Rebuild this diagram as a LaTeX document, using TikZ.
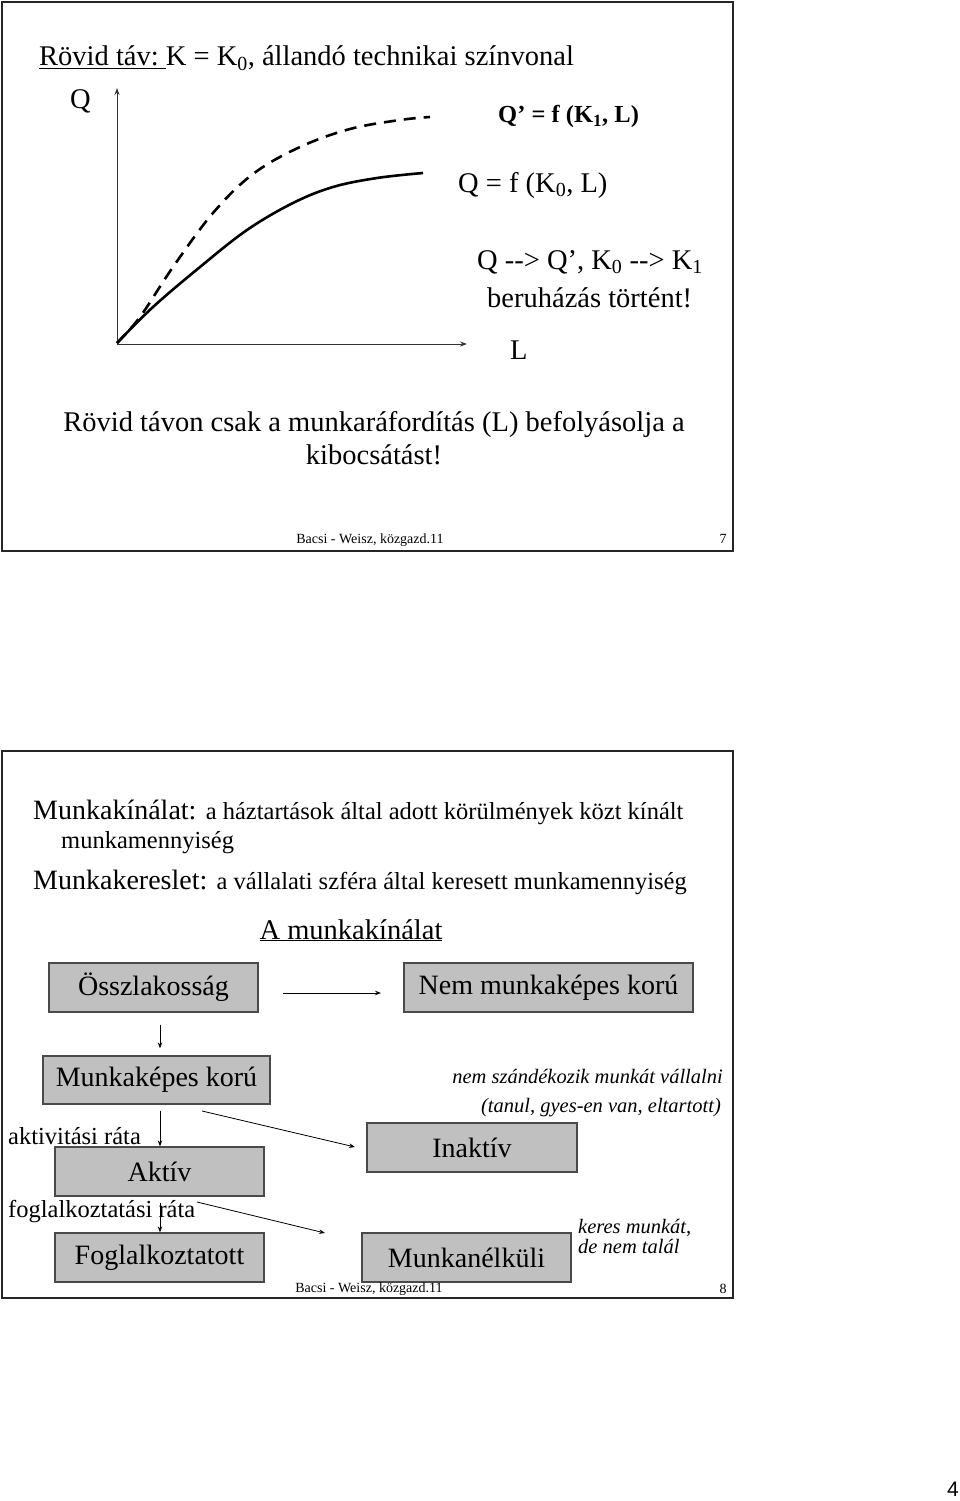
\documentclass[tikz,border=0pt]{standalone}
\usepackage{fontspec}
\setmainfont{Liberation Serif}
\newfontfamily\pagenumfont{Liberation Sans}
\usetikzlibrary{arrows.meta}
\definecolor{boxfill}{HTML}{C0C0C0}
\definecolor{boxline}{HTML}{4A4A4A}
\definecolor{framecol}{HTML}{262626}
\begin{document}
\begin{tikzpicture}[x=1pt,y=-1pt,
  frame/.style={draw=framecol,line width=2.2pt},
  box/.style={draw=boxline,fill=boxfill,line width=1.3pt,inner sep=0pt,font=\fontsize{28}{30}\selectfont},
  big/.style={inner sep=0pt,anchor=base west,font=\fontsize{28.5}{32}\selectfont},
  bigc/.style={inner sep=0pt,anchor=base,font=\fontsize{28.5}{32}\selectfont},
  mid/.style={inner sep=0pt,anchor=base west,font=\fontsize{24.5}{28}\selectfont},
  note/.style={inner sep=0pt,font=\fontsize{20.5}{24}\selectfont\itshape},
  foot/.style={inner sep=0pt,anchor=base,font=\fontsize{14}{16}\selectfont},
  arr/.style={draw=black,line width=0.8pt,-{Stealth[length=6pt,width=4.5pt]}},
  axis/.style={draw=black!80,line width=1pt,-{Stealth[length=7pt,width=5pt]}},
  curve/.style={draw=black,line width=2.6pt}]
\useasboundingbox (0,0) rectangle (960,1501);
\fill[white] (0,0) rectangle (960,1501);

% ---------- slide 7 ----------
\draw[frame] (2,2) rectangle (733,551);
\node[big] (title) at (39,66) {\underline{Rövid táv:\ }K = K\textsubscript{0}, állandó technikai színvonal};
\node[big] (qlab) at (70,109) {Q};
\coordinate (O) at (117,344);
\coordinate (ytop) at (117,88);
\coordinate (xend) at (467,344);
\draw[axis] (O) -- (ytop);
\draw[axis] (O) -- (xend);
\node[big] (llab) at (510,359) {L};
\draw[curve,dash pattern=on 12pt off 8pt] plot[smooth,tension=0.6] coordinates
  {(117,343) (140,317) (173,267) (213,213) (253,174) (300,147) (350,129) (400,120) (430,117)};
\draw[curve] plot[smooth,tension=0.6] coordinates
  {(117,343) (153,307) (200,267) (247,230) (293,203) (333,187) (377,178) (423,173)};
\node[inner sep=0pt,anchor=base west,font=\fontsize{24.5}{28}\selectfont\bfseries] (qprime) at (498,123) {Q’ = f (K\textsubscript{1}, L)};
\node[big] (qzero) at (458,192) {Q = f (K\textsubscript{0}, L)};
\node[big] (shift) at (477,269) {Q -{}-> Q’, K\textsubscript{0} -{}-> K\textsubscript{1}};
\node[big] (inv) at (487,307) {beruházás történt!};
\node[bigc] (short1) at (374,431) {Rövid távon csak a munkaráfordítás (L) befolyásolja a};
\node[bigc] (short2) at (374,464) {kibocsátást!};
\node[foot] (foot7) at (370,543) {Bacsi - Weisz, közgazd.11};
\node[foot] (num7) at (723,543) {7};

% ---------- slide 8 ----------
\draw[frame] (2,751) rectangle (733,1298);
\node[inner sep=0pt,anchor=base west] (kin) at (33,819)
  {\fontsize{28}{32}\selectfont Munkakínálat: \fontsize{24.5}{28}\selectfont a háztartások által adott körülmények közt kínált};
\node[mid] (kin2) at (61,848) {munkamennyiség};
\node[inner sep=0pt,anchor=base west] (ker) at (33,889)
  {\fontsize{28}{32}\selectfont Munkakereslet: \fontsize{24.5}{28}\selectfont a vállalati szféra által keresett munkamennyiség};
\node[bigc] (head) at (351,939) {\underline{A munkakínálat}};

\node[box,minimum width=209pt,minimum height=49pt] (ossz) at (153.5,987.5) {Összlakosság};
\node[box,minimum width=289pt,minimum height=49pt] (nem) at (548.5,987.5) {Nem munkaképes korú};
\node[box,minimum width=227pt,minimum height=48pt] (mk) at (156.5,1080) {Munkaképes korú};
\node[box,minimum width=209pt,minimum height=49pt] (akt) at (159.5,1171.5) {Aktív};
\node[box,minimum width=209pt,minimum height=49pt] (fog) at (159.5,1257.5) {Foglalkoztatott};
\node[box,minimum width=210pt,minimum height=49pt] (ina) at (472,1147.5) {Inaktív};
\node[box,minimum width=209pt,minimum height=49pt] (mun) at (466.5,1257.5) {Munkanélküli};

\coordinate (ax) at (160,0);
\coordinate (h1) at (283,993);
\coordinate (h2) at (381,993);
\draw[arr] (h1) -- (h2);
\draw[arr,shorten <=12pt,shorten >=7pt] (ossz.south -| ax) -- (mk.north -| ax);
\draw[arr,shorten <=6pt] (mk.south -| ax) -- (akt.north -| ax);
\draw[arr,shorten <=6pt] (akt.south -| ax) -- (fog.north -| ax);
\coordinate (i1) at (202,1111);
\coordinate (i2) at (355,1147);
\draw[arr] (i1) -- (i2);
\coordinate (u1) at (197,1202);
\coordinate (u2) at (325,1233);
\draw[arr] (u1) -- (u2);

\node[mid] (aktr) at (8,1144) {aktivitási ráta};
\node[mid] (fogr) at (8,1217) {foglalkoztatási ráta};
\node[note,anchor=base east] (n1) at (723,1083) {nem szándékozik munkát vállalni};
\node[note,anchor=base east] (n2) at (721,1112) {(tanul, gyes-en van, eltartott)};
\node[note,anchor=base west] (n3) at (578,1233) {keres munkát,};
\node[note,anchor=base west] (n4) at (578,1253) {de nem talál};
\node[foot] (foot8) at (369,1292) {Bacsi - Weisz, közgazd.11};
\node[foot] (num8) at (723,1293) {8};

\node[inner sep=0pt,font=\pagenumfont\fontsize{21}{24}\selectfont] (page) at (953,1489) {4};
\end{tikzpicture}
\end{document}
